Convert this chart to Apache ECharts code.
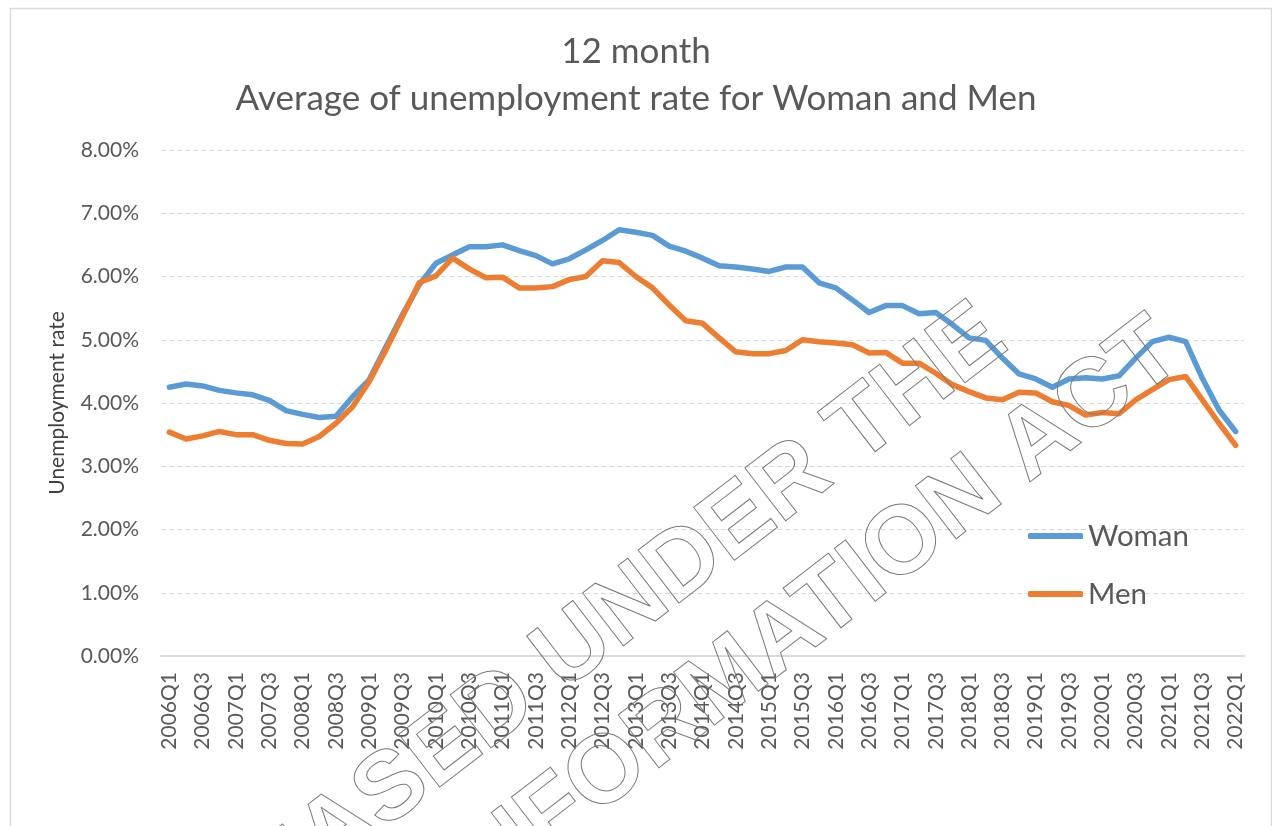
<!DOCTYPE html>
<html>
<head>
<meta charset="utf-8">
<script src="https://cdn.jsdelivr.net/npm/echarts@6/dist/echarts.min.js"></script>
<style>
html,body{margin:0;padding:0;background:#fff;}
#chart{width:1272px;height:826px;}
</style>
</head>
<body>
<div id="chart"></div>
<script>
const categories = [
 '2006Q1','2006Q2','2006Q3','2006Q4','2007Q1','2007Q2','2007Q3','2007Q4',
 '2008Q1','2008Q2','2008Q3','2008Q4','2009Q1','2009Q2','2009Q3','2009Q4',
 '2010Q1','2010Q2','2010Q3','2010Q4','2011Q1','2011Q2','2011Q3','2011Q4',
 '2012Q1','2012Q2','2012Q3','2012Q4','2013Q1','2013Q2','2013Q3','2013Q4',
 '2014Q1','2014Q2','2014Q3','2014Q4','2015Q1','2015Q2','2015Q3','2015Q4',
 '2016Q1','2016Q2','2016Q3','2016Q4','2017Q1','2017Q2','2017Q3','2017Q4',
 '2018Q1','2018Q2','2018Q3','2018Q4','2019Q1','2019Q2','2019Q3','2019Q4',
 '2020Q1','2020Q2','2020Q3','2020Q4','2021Q1','2021Q2','2021Q3','2021Q4',
 '2022Q1'
];
const woman = [
 4.25,4.30,4.27,4.20,4.16,4.13,4.04,3.88,
 3.82,3.77,3.79,4.10,4.37,4.89,5.40,5.87,
 6.21,6.34,6.47,6.47,6.50,6.41,6.33,6.20,
 6.28,6.42,6.57,6.74,6.70,6.65,6.48,6.40,
 6.29,6.17,6.15,6.12,6.08,6.15,6.15,5.90,
 5.82,5.63,5.43,5.54,5.54,5.41,5.43,5.24,
 5.03,4.99,4.71,4.46,4.38,4.25,4.38,4.40,
 4.38,4.43,4.71,4.97,5.04,4.97,4.39,3.89,
 3.55
];
const men = [
 3.54,3.43,3.48,3.55,3.50,3.50,3.41,3.36,
 3.35,3.47,3.68,3.94,4.34,4.84,5.37,5.90,
 6.01,6.29,6.12,5.98,5.99,5.82,5.82,5.84,
 5.95,6.00,6.25,6.22,6.00,5.82,5.55,5.30,
 5.26,5.03,4.81,4.78,4.78,4.83,5.00,4.97,
 4.95,4.92,4.79,4.80,4.63,4.63,4.47,4.29,
 4.18,4.08,4.05,4.17,4.16,4.02,3.96,3.81,
 3.85,3.83,4.05,4.21,4.37,4.42,4.05,3.68,
 3.33
];
const yTicks = ['0.00%','1.00%','2.00%','3.00%','4.00%','5.00%','6.00%','7.00%','8.00%'];
const titleLines = ['12 month', 'Average of unemployment rate for Woman and Men'];
const seriesNames = ['Woman', 'Men'];
const watermarkLines = ['RELEASED UNDER THE', 'OFFICIAL INFORMATION ACT'];

const FONT = 'Lato, "Open Sans", sans-serif';
const WM_FONT = 'bold 97px "Liberation Sans", Arial, sans-serif';
const chart = echarts.init(document.getElementById('chart'), null, {renderer: 'canvas'});
const rot = 37.6 * Math.PI / 180;

chart.setOption({
  animation: false,
  backgroundColor: '#ffffff',
  textStyle: {fontFamily: FONT},
  title: [
    {text: titleLines[0], left: 'center', top: 29,
     textStyle: {fontFamily: FONT, fontSize: 35, fontWeight: 'normal', color: '#595959'}},
    {text: titleLines[1], left: 'center', top: 76,
     textStyle: {fontFamily: FONT, fontSize: 35, fontWeight: 'normal', color: '#595959'}}
  ],
  legend: {
    orient: 'vertical',
    left: 1023,
    top: 516,
    itemWidth: 55,
    itemHeight: 6,
    itemGap: 28,
    icon: 'roundRect',
    textStyle: {fontFamily: FONT, fontSize: 29.5, color: '#595959'},
    data: seriesNames
  },
  grid: {left: 161, right: 28, top: 150, bottom: 170, containLabel: false},
  xAxis: {
    type: 'category',
    data: categories,
    boundaryGap: true,
    axisLine: {lineStyle: {color: '#d9d9d9', width: 2}},
    axisTick: {show: false},
    axisLabel: {interval: 1, rotate: 90, margin: 16, color: '#595959', fontFamily: FONT, fontSize: 21}
  },
  yAxis: {
    type: 'value',
    min: 0, max: 8, interval: 1,
    name: 'Unemployment rate',
    nameLocation: 'middle',
    nameGap: 93,
    nameTextStyle: {fontFamily: FONT, fontSize: 21, color: '#404040'},
    axisLine: {show: false},
    axisTick: {show: false},
    axisLabel: {margin: 22, color: '#595959', fontFamily: FONT, fontSize: 21,
      formatter: function (v) { return yTicks[Math.round(v)]; }},
    splitLine: {lineStyle: {color: '#d9d9d9', width: 1, type: [5, 3]}}
  },
  series: [
    {name: seriesNames[0], type: 'line', data: woman, symbol: 'none', smooth: false,
     color: '#5B9BD5', lineStyle: {width: 5.5, color: '#5B9BD5', cap: 'round', join: 'round'}, z: 2},
    {name: seriesNames[1], type: 'line', data: men, symbol: 'none', smooth: false,
     color: '#ED7D31', lineStyle: {width: 5.5, color: '#ED7D31', cap: 'round', join: 'round'}, z: 3}
  ],
  graphic: [
    {type: 'rect', left: 8, top: 6, z: -10, silent: true,
     shape: {width: 1261, height: 840},
     style: {fill: 'none', stroke: '#d9d9d9', lineWidth: 1.5}},
    {type: 'text', x: 550.6, y: 668, rotation: rot, z: 100, silent: true,
     style: {text: watermarkLines[0], font: WM_FONT,
       fill: 'rgba(0,0,0,0)', stroke: '#7a7a7a', lineWidth: 1, textAlign: 'center', textVerticalAlign: 'middle'}},
    {type: 'text', x: 623.8, y: 761, rotation: rot, z: 100, silent: true,
     style: {text: watermarkLines[1], font: WM_FONT,
       fill: 'rgba(0,0,0,0)', stroke: '#7a7a7a', lineWidth: 1, textAlign: 'center', textVerticalAlign: 'middle'}}
  ]
});
</script>
</body>
</html>
